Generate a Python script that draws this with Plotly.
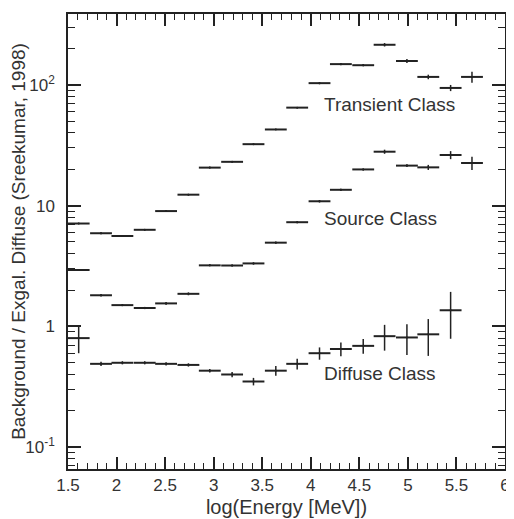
import plotly.graph_objects as go

# Bin centres in log10(E / MeV), each bin is 0.225 wide.
energy_bins = [1.61, 1.84, 2.06, 2.29, 2.51, 2.74, 2.96, 3.19, 3.41, 3.64,
               3.86, 4.09, 4.31, 4.54, 4.76, 4.99, 5.21, 5.44, 5.66]
bin_half_width = [0.1125] * len(energy_bins)

transient_vals = [7.1, 5.9, 5.6, 6.3, 9.0, 12.3, 20.6, 23.0, 32.2, 42.6,
                  64.6, 103, 148, 145, 214, 157, 116, 94, 116]
transient_errs = [0.1, 0.1, 0.1, 0.1, 0.15, 0.2, 0.3, 0.3, 0.4, 0.5,
                  0.8, 2, 3, 3, 7, 6, 5, 5.5, 12]

source_vals = [2.93, 1.81, 1.50, 1.42, 1.55, 1.86, 3.20, 3.19, 3.32, 4.93,
               7.28, 10.85, 13.5, 19.9, 27.9, 21.4, 20.7, 26.2, 22.5]
source_errs = [0.05, 0.04, 0.03, 0.03, 0.04, 0.05, 0.06, 0.06, 0.07, 0.1,
               0.15, 0.25, 0.3, 0.4, 1.1, 0.6, 1.0, 2.0, 2.8]

diffuse_vals = [0.80, 0.49, 0.50, 0.50, 0.49, 0.48, 0.43, 0.40, 0.35,
                0.43, 0.49, 0.60, 0.65, 0.69, 0.83, 0.81, 0.86, 1.36]
diffuse_errs = [0.20, 0.02, 0.015, 0.015, 0.015, 0.015, 0.015, 0.02, 0.025,
                0.04, 0.05, 0.07, 0.085, 0.095, 0.2, 0.23, 0.29, 0.57]

class_labels = ["Transient Class", "Source Class", "Diffuse Class"]
label_x = [4.12, 4.12, 4.12]
label_logy = [1.833, 0.895, -0.393]

ytick_vals = [0.1, 1, 10, 100]
ytick_text = ["10<sup>-1</sup>", "1", "10", "10<sup>2</sup>"]

INK = "#222222"
FONT = "Liberation Sans, Arial, sans-serif"


def class_trace(values, errors):
    """One class drawn ROOT-style: horizontal bin bars with vertical errors."""
    n = len(values)
    return go.Scatter(
        x=energy_bins[:n],
        y=values,
        mode="markers",
        marker=dict(size=2, color=INK),
        error_x=dict(type="data", array=bin_half_width[:n], width=0,
                     thickness=2, color=INK),
        error_y=dict(type="data", array=errors, width=0,
                     thickness=1.5, color=INK),
        showlegend=False,
        hoverinfo="skip",
    )


fig = go.Figure()
fig.add_trace(class_trace(transient_vals, transient_errs))
fig.add_trace(class_trace(source_vals, source_errs))
fig.add_trace(class_trace(diffuse_vals, diffuse_errs))

for text, x, y in zip(class_labels, label_x, label_logy):
    fig.add_annotation(x=x, y=y, text=text, showarrow=False,
                       xanchor="left", yanchor="middle",
                       font=dict(family=FONT, size=19, color="#333333"))

minor_y = [m * 10.0 ** d for d in range(-2, 3) for m in range(2, 10)]

# The page body keeps its default 8px margin, so the figure is 8px smaller.
fig.update_layout(
    width=506,
    height=511,
    margin=dict(l=59, r=4, t=4, b=50),
    paper_bgcolor="white",
    plot_bgcolor="white",
    font=dict(family=FONT, size=17, color="#333333"),
    xaxis=dict(
        range=[1.5, 6],
        tick0=1.5,
        dtick=0.5,
        ticks="inside",
        ticklen=12,
        tickwidth=1.5,
        tickcolor=INK,
        showline=True,
        linecolor=INK,
        linewidth=1.5,
        mirror="ticks",
        showgrid=False,
        zeroline=False,
        minor=dict(ticks="inside", dtick=0.1, tick0=1.5, ticklen=6,
                   tickwidth=1.2, tickcolor=INK, showgrid=False),
        title=dict(text="log(Energy [MeV])", font=dict(size=20), standoff=6),
    ),
    yaxis=dict(
        type="log",
        range=[-1.18, 2.585],
        tickmode="array",
        tickvals=ytick_vals,
        ticktext=ytick_text,
        ticks="inside",
        ticklen=13,
        tickwidth=1.5,
        tickcolor=INK,
        ticklabelstandoff=8,
        showline=True,
        linecolor=INK,
        linewidth=1.5,
        mirror="ticks",
        showgrid=False,
        zeroline=False,
        minor=dict(ticks="inside", tickmode="array", tickvals=minor_y,
                   ticklen=7, tickwidth=1.2, tickcolor=INK, showgrid=False),
        title=dict(text="Background / Exgal. Diffuse (Sreekumar, 1998)",
                   font=dict(size=19), standoff=0),
    ),
)

fig.write_html("out.html")
